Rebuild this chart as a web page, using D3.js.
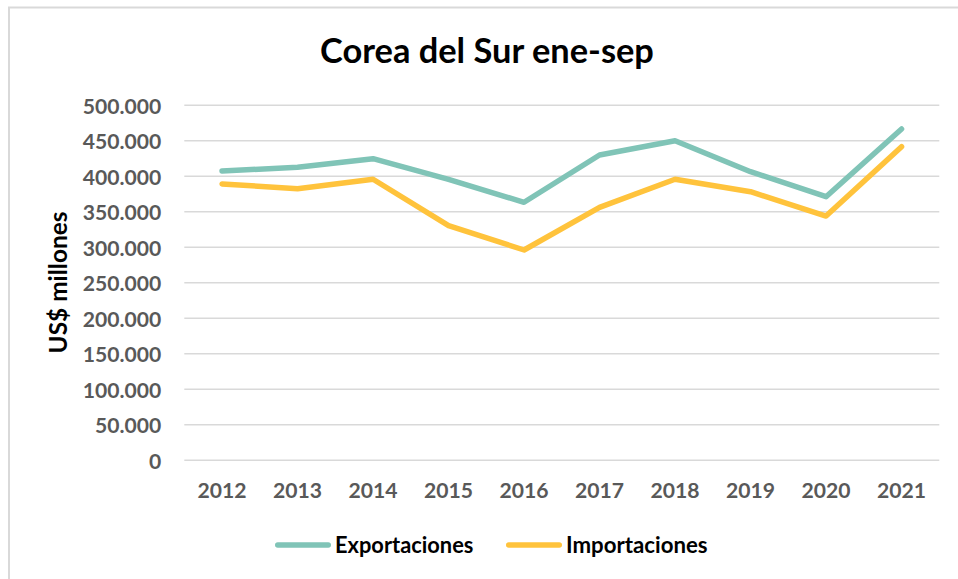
<!DOCTYPE html>
<html><head><meta charset="utf-8">
<script src="https://cdn.jsdelivr.net/npm/d3@7"></script>
<style>
html,body{margin:0;padding:0;background:#fff;}
svg{display:block;}
text{font-family:Lato,"Open Sans",sans-serif;font-weight:bold;}
</style></head>
<body>
<svg id="chart" width="958" height="579"></svg>
<script>
const years = ["2012","2013","2014","2015","2016","2017","2018","2019","2020","2021"];
const exportaciones = [407500, 412700, 424800, 395800, 363400, 430000, 450000, 406500, 371300, 466600];
const importaciones = [389200, 382600, 395800, 330400, 296200, 356300, 395800, 378300, 344000, 441700];
const seriesNames = ["Exportaciones", "Importaciones"];
const seriesColors = ["#80c4b7", "#ffc33c"];
const yTicks = [0, 50000, 100000, 150000, 200000, 250000, 300000, 350000, 400000, 450000, 500000];
const titleText = "Corea del Sur ene-sep";
const yAxisTitle = "US$ millones";

const svg = d3.select("#chart");
const W = 958, H = 579;
const m = {left: 184.3, right: 939.3, top: 105.3, bottom: 460.3};

function fit(sel, target) {
  const node = sel.node();
  const fs = parseFloat(sel.attr("font-size"));
  const w = node.getComputedTextLength();
  sel.attr("font-size", fs * target / w);
  return fs * target / w;
}

// border
svg.append("path")
  .attr("d", `M${W},7.5 H9 V${H}`)
  .attr("fill", "none").attr("stroke", "#d9d9d9").attr("stroke-width", 2);

const locale = d3.formatLocale({decimal: ",", thousands: ".", grouping: [3], currency: ["$", ""]});
const fmt = locale.format(",.0f");

const x = d3.scaleBand().domain(years).range([m.left, m.right]);
const y = d3.scaleLinear().domain([0, 500000]).range([m.bottom, m.top]);

const probe = svg.append("text").attr("font-size", 20).text(fmt(500000));
const tickFs = fit(probe, 78.6);
probe.remove();

// gridlines
svg.append("g").selectAll("line").data(yTicks).join("line")
  .attr("x1", m.left).attr("x2", m.right)
  .attr("y1", d => y(d)).attr("y2", d => y(d))
  .attr("stroke", "#d9d9d9").attr("stroke-width", 1.4);

// y axis
const gy = svg.append("g").attr("transform", `translate(${m.left},0)`)
  .call(d3.axisLeft(y).tickValues(yTicks).tickFormat(fmt).tickSize(0).tickPadding(23));
gy.select(".domain").remove();
gy.selectAll("text").attr("dy", 7.8).attr("font-size", tickFs)
  .attr("fill", "#595959").attr("font-family", "Lato,'Open Sans',sans-serif").attr("font-weight", "bold");

// x axis
const gx = svg.append("g").attr("transform", `translate(0,${m.bottom})`)
  .call(d3.axisBottom(x).tickSize(0));
gx.select(".domain").remove();
gx.selectAll("text").attr("y", 38).attr("dy", 0).attr("font-size", tickFs)
  .attr("fill", "#595959").attr("font-family", "Lato,'Open Sans',sans-serif").attr("font-weight", "bold");

// lines
const line = d3.line().x((d, i) => x(years[i]) + x.bandwidth() / 2).y(d => y(d));
[exportaciones, importaciones].forEach((data, k) => {
  svg.append("path").datum(data)
    .attr("d", line)
    .attr("fill", "none")
    .attr("stroke", seriesColors[k])
    .attr("stroke-width", 5.5)
    .attr("stroke-linecap", "round")
    .attr("stroke-linejoin", "round");
});

// title
const t = svg.append("text").attr("x", 487).attr("y", 63).attr("text-anchor", "middle")
  .attr("font-size", 30).attr("fill", "#000").text(titleText);
fit(t, 334);

// y axis title
const yt = svg.append("text").attr("transform", "translate(67,282.5) rotate(-90)")
  .attr("text-anchor", "middle").attr("font-size", 20).attr("fill", "#000").text(yAxisTitle);
fit(yt, 142);

// legend
const legendY = 545;
let lx = 275;
const legendTargets = [138.5, 141.7];
seriesNames.forEach((name, k) => {
  svg.append("line").attr("x1", lx + 2.75).attr("x2", lx + 53.25)
    .attr("y1", legendY).attr("y2", legendY)
    .attr("stroke", seriesColors[k]).attr("stroke-width", 5.5).attr("stroke-linecap", "round");
  const tx = svg.append("text").attr("x", lx + 60).attr("y", 552.5)
    .attr("font-size", 20).attr("fill", "#000").text(name);
  fit(tx, legendTargets[k]);
  lx = lx + 60 + legendTargets[k] + 32.5;
});
</script>
</body></html>
